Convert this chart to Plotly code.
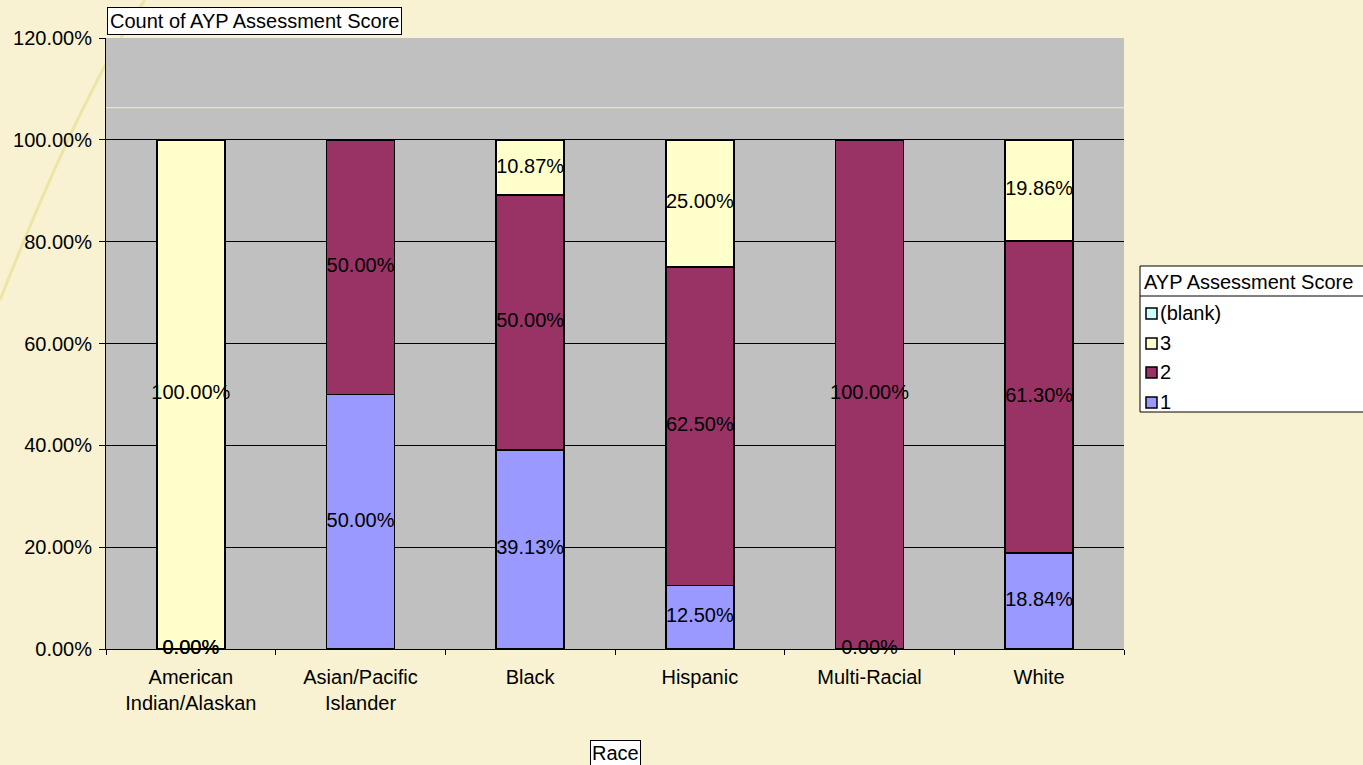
import plotly.graph_objects as go
import numpy as np

categories = ["American<br>Indian/Alaskan", "Asian/Pacific<br>Islander", "Black", "Hispanic", "Multi-Racial", "White"]
score_1 = [0.0, 50.00, 39.13, 12.50, 0.0, 18.84]
score_2 = [0.0, 50.00, 50.00, 62.50, 100.00, 61.30]
score_3 = [100.00, None, 10.87, 25.00, None, 19.86]
score_blank = [None, None, None, None, None, None]
y_ticks = [0, 20, 40, 60, 80, 100, 120]

series = [("1", score_1, "#9999FF"), ("2", score_2, "#993366"),
          ("3", score_3, "#FFFFCC"), ("(blank)", score_blank, "#CCFFFF")]

FONT = "Liberation Sans, Arial, sans-serif"
BG = "#F8F2D2"
W, H = 1363, 765
L, R, T, B = 106, 239, 38, 116
pw, ph = W - L - R, H - T - B

def px(x):
    return (x - L) / pw

def py(y):
    return (H - B - y) / ph

fig = go.Figure()
for name, vals, col in series:
    fig.add_trace(go.Bar(
        x=categories, y=vals, name=name,
        marker=dict(color=col, line=dict(color="black", width=1.5)),
        width=0.4, hoverinfo="skip", showlegend=False))

# data labels at segment centers
lx, ly, lt = [], [], []
cum = np.zeros(len(categories))
for name, vals, col in series:
    for i, v in enumerate(vals):
        if v is None:
            continue
        lx.append(categories[i])
        ly.append(cum[i] + v / 2)
        lt.append(f"{v:.2f}%")
        cum[i] += v
fig.add_trace(go.Scatter(x=lx, y=ly, text=lt, mode="text", showlegend=False,
                         textfont=dict(family=FONT, size=20, color="black"),
                         cliponaxis=False, hoverinfo="skip"))

shapes = [
    # decorative arc
    dict(type="path", xref="paper", yref="paper", layer="below",
         path=f"M {px(145)} {py(0)} Q {px(85)} {py(85)} {px(0)} {py(300)}",
         line=dict(color="#EDE5A4", width=3)),
    # plot background
    dict(type="rect", xref="paper", yref="paper", layer="below",
         x0=0, x1=1, y0=0, y1=1, fillcolor="#C0C0C0", line=dict(width=0)),
    # light line near top
    dict(type="line", xref="paper", yref="y", x0=0, x1=1, y0=106.3, y1=106.3,
         layer="below", line=dict(color="#F5EFC8", width=1)),
]
annotations = [
    dict(text="Count of AYP Assessment Score", xref="paper", yref="paper",
         x=px(107), y=py(35), xanchor="left", yanchor="bottom", showarrow=False,
         bgcolor="white", bordercolor="black", borderwidth=1, borderpad=2,
         font=dict(size=20)),
    dict(text="Race", xref="paper", yref="paper",
         x=px(615), y=py(740), xanchor="center", yanchor="top", showarrow=False,
         bgcolor="white", bordercolor="black", borderwidth=1, borderpad=1,
         font=dict(size=20)),
]

# legend box (drawn manually to match the reference layout)
LG_L, LG_T, LG_B, LG_R = 1140, 266, 412, 1375
shapes.append(dict(type="rect", xref="paper", yref="paper",
                   x0=px(LG_L), x1=px(LG_R), y0=py(LG_B), y1=py(LG_T),
                   fillcolor="white", line=dict(color="black", width=1)))
shapes.append(dict(type="line", xref="paper", yref="paper",
                   x0=px(LG_L), x1=px(LG_R), y0=py(296), y1=py(296),
                   line=dict(color="black", width=1)))
annotations.append(dict(text="AYP Assessment Score", xref="paper", yref="paper",
                        x=px(1142), y=py(282), xanchor="left", yanchor="middle",
                        showarrow=False, font=dict(size=20)))
item_y = [313, 343, 372, 402]
for (name, vals, col), yc in zip(reversed(series), item_y):
    shapes.append(dict(type="rect", xref="paper", yref="paper",
                       x0=px(1146), x1=px(1157), y0=py(yc + 6), y1=py(yc - 5),
                       fillcolor=col, line=dict(color="black", width=1.5)))
    annotations.append(dict(text=name, xref="paper", yref="paper",
                            x=px(1158), y=py(yc), xanchor="left", yanchor="middle",
                            showarrow=False, font=dict(size=20)))

fig.update_layout(
    width=W, height=H,
    margin=dict(l=L, r=R, t=T, b=B, pad=0),
    paper_bgcolor=BG, plot_bgcolor="rgba(0,0,0,0)",
    barmode="stack", bargap=0.6,
    font=dict(family=FONT, size=20, color="black"),
    shapes=shapes, annotations=annotations, showlegend=False,
)
fig.update_yaxes(range=[0, 120], tickvals=y_ticks,
                 ticktext=[f"{v:.2f}%" for v in y_ticks],
                 showgrid=True, gridcolor="black", gridwidth=1,
                 showline=True, linecolor="black", linewidth=1,
                 ticks="outside", ticklen=6, tickcolor="black", zeroline=False,
                 ticklabelstandoff=3, tickfont=dict(size=20))
fig.update_xaxes(showline=True, linecolor="black", linewidth=1,
                 ticks="outside", ticklen=5, tickcolor="black", tickson="boundaries",
                 ticklabelstandoff=10, tickfont=dict(size=20))

fig.write_html("out.html", config={"displayModeBar": False},
               post_script=f"document.body.style.margin='0';document.body.style.background='{BG}';")
